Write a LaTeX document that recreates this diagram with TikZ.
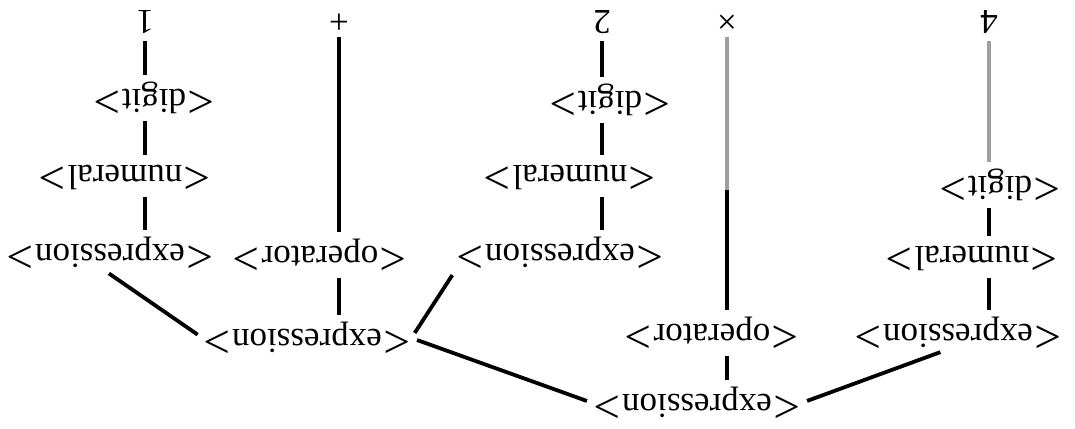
\documentclass[tikz,border=0pt]{standalone}
\usepackage{fontspec}
\usepackage{graphicx}
\setmainfont{Liberation Serif}
\newcommand{\ud}[1]{\rotatebox[origin=c]{180}{#1}}
\newcommand{\brl}{\raisebox{-0.08em}{\scalebox{1.35}{<}}}
\newcommand{\brr}{\raisebox{-0.08em}{\scalebox{1.35}{>}}}
\newcommand{\nt}[1]{\ud{\brl\kern0.05em#1\kern0.05em\brr}}
\begin{document}
\begin{tikzpicture}[x=1pt,y=-1pt,
  lab/.style={inner sep=1pt,font=\fontsize{35}{42}\selectfont},
  edge/.style={line width=3.8pt,shorten <=6pt,shorten >=6pt},
  faint/.style={edge,draw=gray!75}]
\useasboundingbox (0,0) rectangle (1075,428);
% column 1
\node[lab] (one)  at (145,22)  {\ud{1}};
\node[lab] (dig1) at (154,98)  {\nt{digit}};
\node[lab] (num1) at (125,176) {\nt{numeral}};
\node[lab] (ex1)  at (110,253) {\nt{expression}};
% plus
\node[lab] (plus) at (339,20)  {\ud{+}};
\node[lab] (op1)  at (320,255) {\nt{operator}};
\node[lab] (ex2)  at (307,338) {\nt{expression}};
% column 2
\node[lab] (two)  at (602,22)  {\ud{2}};
\node[lab] (dig2) at (610,100) {\nt{digit}};
\node[lab] (num2) at (570,176) {\nt{numeral}};
\node[lab] (ex3)  at (560,253) {\nt{expression}};
% times
\node[lab] (times) at (727,20) {\ud{×}};
\node[lab] (op2)  at (712,333) {\nt{operator}};
\node[lab] (root) at (697,403) {\nt{expression}};
% column 4
\node[lab] (four) at (989,22)  {\ud{4}};
\node[lab] (dig3) at (1000,185) {\nt{digit}};
\node[lab] (num3) at (972,257) {\nt{numeral}};
\node[lab] (ex5)  at (958,333) {\nt{expression}};
\coordinate (tmid) at (727,190);
% vertical connectors
\draw[edge] (one.south) -- (one.south |- dig1.north);
\draw[edge] (one |- dig1.south) -- (one |- num1.north);
\draw[edge] (one |- num1.south) -- (one |- ex1.north);
\draw[edge] (plus.south) -- (plus.south |- op1.north);
\draw[edge] (plus |- op1.south) -- (plus |- ex2.north);
\draw[edge] (two.south) -- (two.south |- dig2.north);
\draw[edge] (two |- dig2.south) -- (two |- num2.north);
\draw[edge] (two |- num2.south) -- (two |- ex3.north);
\draw[faint,shorten >=0pt] (times.south) -- (tmid);
\draw[edge,shorten <=0pt] (tmid) -- (times |- op2.north);
\draw[edge] (times |- op2.south) -- (times |- root.north);
\draw[faint] (four.south) -- (four.south |- dig3.north);
\draw[edge] (four |- dig3.south) -- (four |- num3.north);
\draw[edge] (four |- num3.south) -- (four |- ex5.north);
% diagonal connectors
\draw[edge] ([xshift=-6pt]ex1.south) -- (ex2.west);
\draw[edge] (ex2.east) -- (ex3.south west);
\draw[edge] (ex2.east) -- (root.west);
\draw[edge] (root.east) -- ([xshift=-12pt]ex5.south);
\end{tikzpicture}
\end{document}
